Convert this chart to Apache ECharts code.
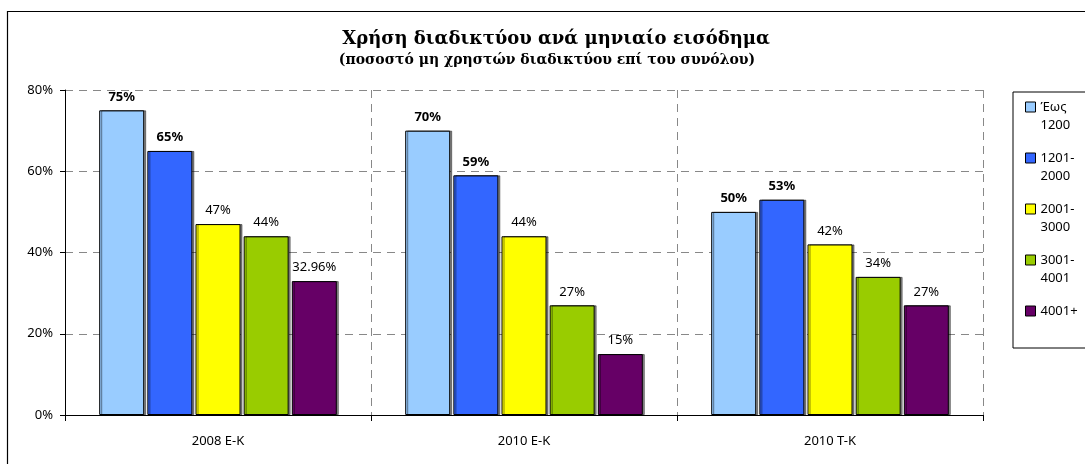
<!DOCTYPE html>
<html>
<head>
<meta charset="utf-8">
<script src="https://cdn.jsdelivr.net/npm/echarts@6/dist/echarts.min.js"></script>
<style>
  html, body { margin: 0; padding: 0; background: #fff; }
  #chart { width: 1085px; height: 464px; }
</style>
</head>
<body>
<div id="chart"></div>
<script>
// === Data === //
const categories = ['2008 Ε-Κ', '2010 Ε-Κ', '2010 Τ-Κ']
const seriesNames = ['Έως 1200', '1201-2000', '2001-3000', '3001-4001', '4001+']
// blank first line keeps the first text line level with the legend swatch
const legendLabels = [' \nΈως\n1200', ' \n1201-\n2000', ' \n2001-\n3000', ' \n3001-\n4001', ' \n4001+\n ']
const upTo1200 = [75, 70, 50]
const from1201 = [65, 59, 53]
const from2001 = [47, 44, 42]
const from3001 = [44, 27, 34]
const over4001 = [32.96, 15, 27]
const yTicks = [0, 20, 40, 60, 80]

const seriesValues = [upTo1200, from1201, from2001, from3001, over4001]
const colors = ['#99ccff', '#3366ff', '#ffff00', '#99cc00', '#660066']
const boldLabels = [true, true, false, false, false]

const labelFont = 'Noto Sans'

const myChart = echarts.init(document.getElementById('chart'))

const option = {
  backgroundColor: '#fff',
  animation: false,
  title: [
    {
      text: 'Χρήση διαδικτύου ανά μηνιαίο εισόδημα',
      left: 551,
      textAlign: 'center',
      top: 25,
      textStyle: {
        fontFamily: 'DejaVu Serif',
        fontWeight: 'bold',
        fontSize: 18,
        color: '#000'
      }
    },
    {
      text: '(ποσοστό μη χρηστών διαδικτύου επί του συνόλου)',
      left: 542,
      textAlign: 'center',
      top: 48,
      textStyle: {
        fontFamily: 'DejaVu Serif',
        fontWeight: 'bold',
        fontSize: 14,
        color: '#000'
      }
    }
  ],
  legend: {
    orient: 'vertical',
    left: 1013,
    top: 92,
    data: seriesNames,
    formatter: name => legendLabels[seriesNames.indexOf(name)],
    icon: 'rect',
    itemWidth: 10,
    itemHeight: 10,
    itemGap: -3,
    borderColor: '#000',
    borderWidth: 1,
    borderRadius: 0,
    padding: [-12, 40, 10, 12],
    itemStyle: { borderColor: '#000', borderWidth: 1 },
    textStyle: {
      fontFamily: labelFont,
      fontSize: 13,
      color: '#000',
      lineHeight: 18
    }
  },
  grid: {
    left: 65,
    right: 102,
    top: 90,
    bottom: 49
  },
  xAxis: {
    type: 'category',
    data: categories,
    axisLine: { lineStyle: { color: '#000', width: 1 } },
    axisTick: { show: true, length: 6, lineStyle: { color: '#000' } },
    axisLabel: {
      fontFamily: labelFont,
      fontSize: 13,
      color: '#000',
      margin: 20
    },
    splitLine: {
      show: true,
      lineStyle: { color: '#888', type: [8, 6], width: 1 }
    }
  },
  yAxis: {
    type: 'value',
    min: yTicks[0],
    max: yTicks[yTicks.length - 1],
    interval: 20,
    axisLine: { show: true, lineStyle: { color: '#000', width: 1 } },
    axisTick: { show: true, length: 5, lineStyle: { color: '#000' } },
    axisLabel: {
      fontFamily: labelFont,
      fontSize: 13,
      color: '#000',
      margin: 12,
      formatter: v => v + '%'
    },
    splitLine: {
      show: true,
      lineStyle: { color: '#888', type: [8, 6], width: 1 }
    }
  },
  series: seriesValues.map((values, index) => ({
    name: seriesNames[index],
    type: 'bar',
    data: values,
    barWidth: 45,
    barGap: '7%',
    itemStyle: {
      color: colors[index],
      borderColor: '#000',
      borderWidth: 1,
      shadowColor: 'rgba(0,0,0,0.45)',
      shadowOffsetX: 2,
      shadowOffsetY: 0,
      shadowBlur: 0
    },
    label: {
      show: true,
      position: 'top',
      distance: 7,
      fontFamily: labelFont,
      fontSize: 13,
      fontWeight: boldLabels[index] ? 'bold' : 'normal',
      color: '#000',
      formatter: p => p.value + '%'
    }
  })),
  graphic: [
    {
      type: 'rect',
      silent: true,
      z: -1,
      shape: { x: 7.5, y: 11.5, width: 1200, height: 600 },
      style: { fill: 'none', stroke: '#000', lineWidth: 1.2 }
    }
  ]
}

myChart.setOption(option)
</script>
</body>
</html>
